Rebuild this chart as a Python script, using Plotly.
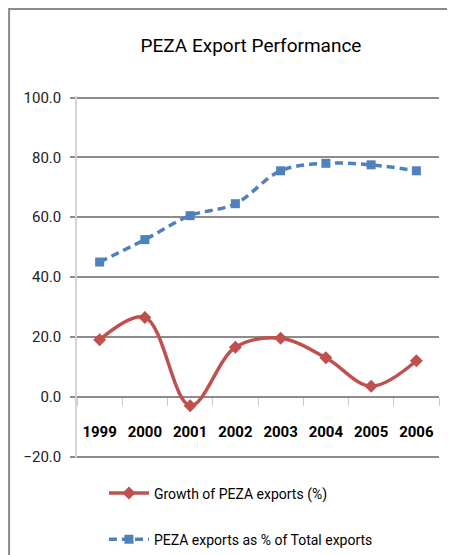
import plotly.graph_objects as go

years = ["1999", "2000", "2001", "2002", "2003", "2004", "2005", "2006"]
growth = [19.0, 26.5, -3.0, 16.5, 19.5, 13.0, 3.5, 12.0]
share = [45.0, 52.5, 60.5, 64.5, 75.5, 78.0, 77.5, 75.5]
y_ticks = [-20, 0, 20, 40, 60, 80, 100]

FONT = "Roboto, Liberation Sans, sans-serif"
RED = "#C0504D"
BLUE = "#4F81BD"
GRID = "#8c8c8c"

# page offsets the figure by 8px (body margin); coordinates below are figure pixels
W, H = 455, 555
YMIN, YMAX = -20.5, 100.5
L, T = 69, 88
R = W - 431.5
B = H - 450.5
pw = W - L - R
ph = H - T - B

fig = go.Figure()
fig.add_trace(go.Scatter(
    x=years, y=growth, name="Growth of PEZA exports (%)", legendgroup="a",
    mode="lines+markers", line=dict(color=RED, width=3.5, shape="spline", smoothing=1.0),
    marker=dict(symbol="diamond", size=10, color=RED)))
fig.add_trace(go.Scatter(
    x=years, y=share, name="PEZA exports as % of Total exports", legendgroup="b",
    mode="lines+markers", line=dict(color=BLUE, width=3.5, dash="8px,5px", shape="spline", smoothing=1.0),
    marker=dict(symbol="square", size=9, color=BLUE)))

def py(pix):
    return (H - B - pix) / ph

def px(pix):
    return (pix - L) / pw

fig.update_layout(
    width=W, height=H,
    margin=dict(l=L, r=R, t=T, b=B, autoexpand=False),
    paper_bgcolor="white", plot_bgcolor="white",
    font=dict(family=FONT, color="black"),
    title=dict(text="PEZA Export Performance", xref="container", x=243 / W, xanchor="center",
               yref="container", y=1 - 37 / H, yanchor="middle",
               font=dict(size=19, family=FONT, color="black")),
    xaxis=dict(type="category", categoryorder="array", categoryarray=years,
               range=[-0.5, 7.5], anchor="free", position=(0 - YMIN) / (YMAX - YMIN),
               showline=False, showgrid=False, zeroline=False, automargin=False,
               ticks="outside", tickson="boundaries", ticklen=8, tickwidth=1, tickcolor="#c8c8c8",
               tickangle=0,
               tickfont=dict(size=15, family=FONT, weight="bold", color="black"),
               ticklabelstandoff=24),
    yaxis=dict(range=[YMIN, YMAX], tickvals=y_ticks, tickformat=".1f", automargin=False,
               showgrid=True, gridcolor=GRID, gridwidth=1.5, zeroline=False,
               showline=True, linecolor="#d4d4d4", linewidth=1.5,
               ticks="outside", ticklen=5, tickwidth=1.5, tickcolor=GRID,
               tickfont=dict(size=15, family=FONT, color="#222222"),
               ticklabelstandoff=6),
    legend=dict(x=px(96), xanchor="left", y=py(470), yanchor="top",
                traceorder="grouped", tracegroupgap=25,
                font=dict(size=14, family=FONT, color="black"), bgcolor="rgba(0,0,0,0)",
                itemwidth=40),
    shapes=[dict(type="rect", xref="paper", yref="paper",
                 x0=px(1), x1=px(W + 20), y0=py(H + 20), y1=py(1),
                 line=dict(color="#8a8a8a", width=2), fillcolor="rgba(0,0,0,0)", layer="below")],
)

fig.write_html("out.html")
